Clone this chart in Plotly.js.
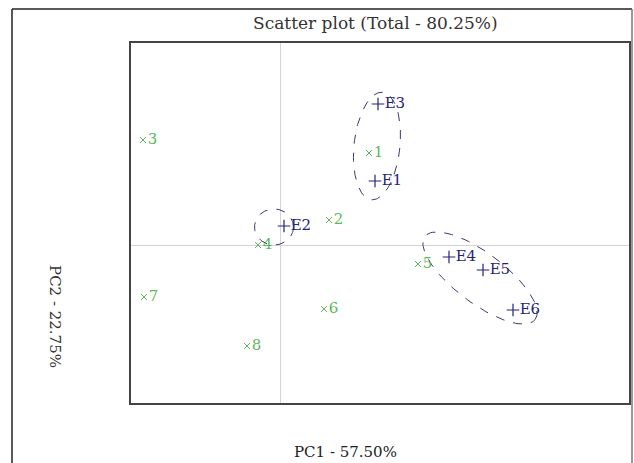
<!DOCTYPE html>
<html>
<head>
<meta charset="utf-8">
<script src="https://cdn.plot.ly/plotly-3.0.1.min.js"></script>
<style>html,body{margin:0;padding:0;background:#fff;}#chart{width:634px;height:463px;}</style>
</head>
<body>
<div id="chart"></div>
<script>
// Genotypes (green x)
const genoLabels = ["1", "2", "3", "4", "5", "6", "7", "8"];
const genoPC1 = [1.78, 0.98, -2.74, -0.44, 2.76, 0.88, -2.72, -0.66];
const genoPC2 = [1.84, 0.50, 2.10, 0.00, -0.38, -1.28, -1.04, -2.02];

// Environments (blue +)
const envLabels = ["E1", "E2", "E3", "E4", "E5", "E6"];
const envPC1 = [1.90, 0.08, 1.96, 3.38, 4.06, 4.66];
const envPC2 = [1.28, 0.38, 2.82, -0.24, -0.50, -1.30];

// Cluster ellipses: centre, semi-axes, rotation (deg)
const ellCX = [1.94, -0.12, 4.00];
const ellCY = [1.98, 0.36, -0.66];
const ellA = [1.08, 0.39, 1.38];
const ellB = [0.46, 0.36, 0.50];
const ellAngle = [84, 0, -37];

const titleText = "Scatter plot (Total - 80.25%)";
const xTitle = "PC1 - 57.50%";
const yTitle = "PC2 - 22.75%";

const serif = "DejaVu Serif, Liberation Serif, serif";
const green = "#5cb85c";
const navy = "#23237a";

function ellipse(i) {
  const xs = [], ys = [];
  const t = ellAngle[i] * Math.PI / 180;
  for (let k = 0; k <= 120; k++) {
    const u = 2 * Math.PI * k / 120;
    const px = ellA[i] * Math.cos(u), py = ellB[i] * Math.sin(u);
    xs.push(ellCX[i] + px * Math.cos(t) - py * Math.sin(t));
    ys.push(ellCY[i] + px * Math.sin(t) + py * Math.cos(t));
  }
  return {x: xs, y: ys, mode: "lines", type: "scatter", hoverinfo: "skip",
          line: {color: "#3a3a6a", width: 1, dash: "dash"}, showlegend: false};
}

const traces = [];
for (let i = 0; i < ellCX.length; i++) traces.push(ellipse(i));
traces.push({
  x: genoPC1, y: genoPC2, text: genoLabels, type: "scatter", mode: "markers+text",
  textposition: "middle right",
  marker: {symbol: "x-thin-open", size: 6, line: {color: green, width: 1}, color: green},
  textfont: {family: serif, size: 15, color: green}, showlegend: false
});
traces.push({
  x: envPC1, y: envPC2, text: envLabels, type: "scatter", mode: "markers+text",
  textposition: "middle right",
  marker: {symbol: "cross-thin-open", size: 9, line: {color: navy, width: 1.2}, color: navy},
  textfont: {family: serif, size: 15, color: navy}, showlegend: false
});

const layout = {
  width: 634, height: 463,
  margin: {l: 130, r: 4, t: 42, b: 59},
  paper_bgcolor: "#fff", plot_bgcolor: "#fff",
  showlegend: false,
  xaxis: {range: [-3, 7], showgrid: false, zeroline: true, zerolinecolor: "#d4d4dc", zerolinewidth: 1,
          showticklabels: false, ticks: "", showline: false, fixedrange: true},
  yaxis: {range: [-3.18, 4.06], showgrid: false, zeroline: true, zerolinecolor: "#d4d4dc", zerolinewidth: 1,
          showticklabels: false, ticks: "", showline: false, fixedrange: true},
  shapes: [
    {type: "rect", xref: "paper", yref: "paper", x0: 0, x1: 1, y0: 0, y1: 1,
     line: {color: "#444", width: 2}},
    {type: "line", xref: "paper", yref: "paper", x0: -0.236, x1: -0.236, y0: -0.2, y1: 1.0912,
     line: {color: "#222", width: 1.5}},
    {type: "line", xref: "paper", yref: "paper", x0: -0.236, x1: 1.004, y0: 1.0912, y1: 1.0912,
     line: {color: "#222", width: 1.5}},
    {type: "line", xref: "paper", yref: "paper", x0: 1.004, x1: 1.004, y0: -0.2, y1: 1.0912,
     line: {color: "#777", width: 1.5}}
  ],
  annotations: [
    {text: titleText, xref: "paper", yref: "paper", x: 0.49, y: 1.053, xanchor: "center", yanchor: "middle",
     showarrow: false, font: {family: serif, size: 17, color: "#333"}},
    {text: xTitle, xref: "paper", yref: "paper", x: 0.43, y: -0.133, xanchor: "center", yanchor: "middle",
     showarrow: false, font: {family: serif, size: 15, color: "#222"}},
    {text: yTitle, xref: "paper", yref: "paper", x: -0.15, y: 0.243, xanchor: "center", yanchor: "middle",
     textangle: 90, showarrow: false, font: {family: serif, size: 15, color: "#333"}}
  ]
};

Plotly.newPlot("chart", traces, layout, {displayModeBar: false, staticPlot: true});
</script>
</body>
</html>
